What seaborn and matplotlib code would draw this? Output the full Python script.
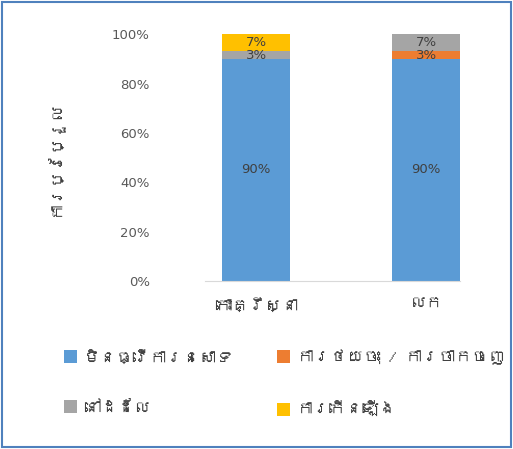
import numpy as np
import pandas as pd
import matplotlib
matplotlib.use("Agg")
import matplotlib.pyplot as plt
from matplotlib import font_manager
from matplotlib.patches import Rectangle, Patch
import seaborn as sns

# data (percent of households)
sites = ["កោះគ្រឹស្នា", "លក"]
status = ["មិនធ្វើការនេសាទ", "ការថយចុះ / ការចាកចេញ", "នៅដដែល", "ការកើនឡើង"]
no_fishing = [90, 90]
decrease = [0, 3]
unchanged = [3, 7]
increase = [7, 0]
colors = ["#5B9BD5", "#ED7D31", "#A5A5A5", "#FFC000"]
y_label = "ការប្រែប្រួល"
y_ticks = [0, 20, 40, 60, 80, 100]


def khmer_font():
    # look for any installed font that has Khmer glyphs
    try:
        from fontTools.ttLib import TTFont
    except ImportError:
        return None
    for f in font_manager.fontManager.ttflist:
        try:
            tt = TTFont(f.fname, fontNumber=0, lazy=True)
            if 0x1780 in tt.getBestCmap():
                return f.name
        except Exception:
            pass
    return None


sns.set_style("white")
kh = khmer_font()
plt.rcParams["font.family"] = [kh, "DejaVu Sans"] if kh else ["DejaVu Sans"]

layers = [no_fishing, decrease, unchanged, increase]
df = pd.DataFrame({s: v for s, v in zip(status, layers)}, index=sites)
cum = df.cumsum(axis=1)

fig = plt.figure(figsize=(5.13, 4.49), dpi=100)
ax = fig.add_axes([0.40, 0.374, 0.497, 0.55])

# stacked bars: draw cumulative totals from the top layer down
for i in reversed(range(len(status))):
    sns.barplot(x=sites, y=cum[status[i]].values, color=colors[i], width=0.4,
                saturation=1, linewidth=0, ax=ax)

for i, s in enumerate(status):
    bottom = cum[s] - df[s]
    for j in range(len(sites)):
        v = df[s].iloc[j]
        if v > 0:
            ax.text(j, bottom.iloc[j] + v / 2, f"{v}%", ha="center", va="center",
                    fontsize=9.5, color="#404040", family="DejaVu Sans")

ax.set_xlim(-0.3, 1.2)
ax.set_ylim(0, 100)
ax.set_yticks(y_ticks)
ax.set_yticklabels([f"{t}%" for t in y_ticks], family="DejaVu Sans")
ax.tick_params(axis="y", length=0, pad=40, labelsize=9.5, labelcolor="#595959")
ax.tick_params(axis="x", length=0, pad=12, labelsize=12, labelcolor="#404040")
ax.set_ylabel(y_label, fontsize=12, color="#404040", labelpad=36)
ax.set_xlabel("")
for side in ["left", "right", "top"]:
    ax.spines[side].set_visible(False)
ax.spines["bottom"].set_color("#D9D9D9")

# legend fills column-wise, so reorder to get rows: blue/orange, gray/yellow
order = [0, 2, 1, 3]
handles = [Patch(facecolor=colors[k], edgecolor="none") for k in order]
labels = [status[k] for k in order]
fig.legend(handles, labels, loc="upper left", bbox_to_anchor=(0.095, 0.255), ncol=2,
           frameon=False, fontsize=12, handlelength=0.8, handleheight=0.8,
           handletextpad=0.4, labelspacing=2.15, columnspacing=2.6,
           labelcolor="#404040")

# thin blue frame around the whole figure
fig.patches.append(Rectangle((0.004, 0.004), 0.992, 0.992, transform=fig.transFigure,
                             fill=False, edgecolor="#4F81BD", linewidth=1.5))

fig.savefig("out.png", dpi=100)
